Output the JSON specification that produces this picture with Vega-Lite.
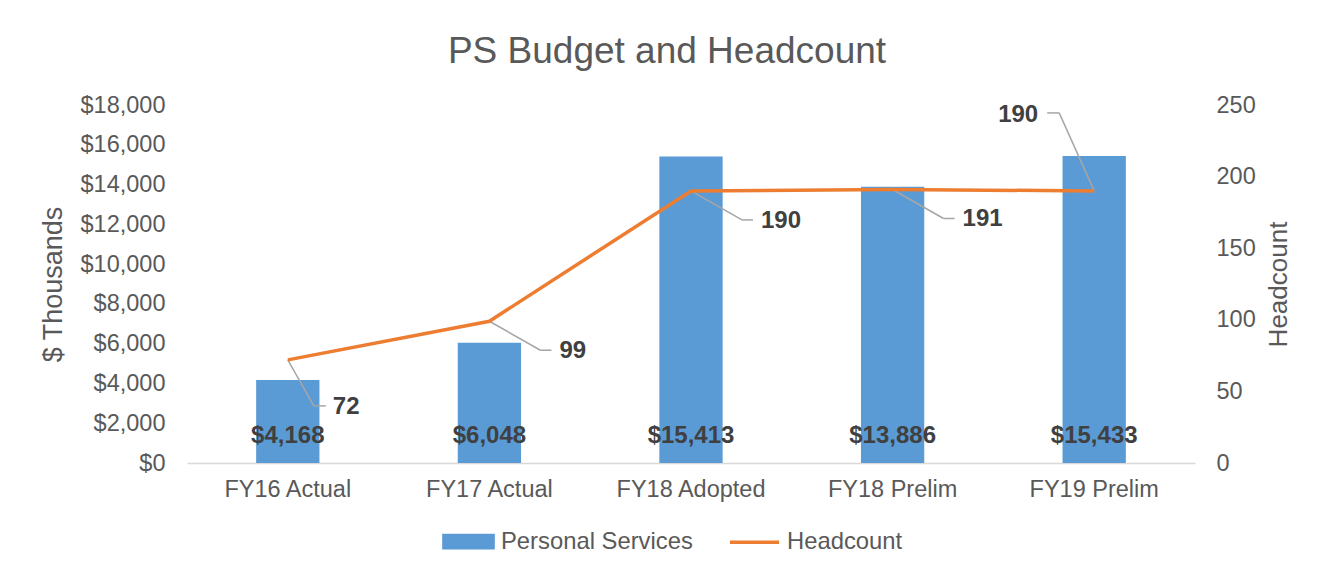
{
  "$schema": "https://vega.github.io/schema/vega-lite/v6.json",
  "width": 1008,
  "height": 358,
  "autosize": {"type": "none"},
  "padding": {"left": 187, "top": 105, "right": 133, "bottom": 110},
  "background": "white",
  "config": {"view": {"stroke": null}, "font": "Liberation Sans"},
  "title": {"text": "PS Budget and Headcount", "fontSize": 37, "font": "Liberation Sans", "fontWeight": "normal", "color": "#595959", "offset": 22, "dx": -24, "anchor": "middle"},
  "data": {"values": [
    {"period": "FY16 Actual", "ps": 4168, "hc": 72},
    {"period": "FY17 Actual", "ps": 6048, "hc": 99},
    {"period": "FY18 Adopted", "ps": 15413, "hc": 190},
    {"period": "FY18 Prelim", "ps": 13886, "hc": 191},
    {"period": "FY19 Prelim", "ps": 15433, "hc": 190}
  ]},
  "encoding": {
    "x": {"field": "period", "type": "nominal", "sort": null,
      "scale": {"paddingInner": 0.686, "paddingOuter": 0.343},
      "axis": {"title": null, "labelAngle": 0, "ticks": false, "domain": true, "domainColor": "#D9D9D9", "domainWidth": 1.5, "labelFontSize": 23.5, "labelColor": "#595959", "labelFont": "Liberation Sans", "labelPadding": 14, "grid": false}}
  },
  "layer": [
    {
      "layer": [
        {
          "mark": {"type": "bar"},
          "encoding": {
            "y": {"field": "ps", "type": "quantitative",
              "scale": {"domain": [0, 18000], "nice": false, "zero": true},
              "axis": {"title": "$ Thousands", "values": [0, 2000, 4000, 6000, 8000, 10000, 12000, 14000, 16000, 18000], "labelOverlap": false, "format": "$,.0f", "grid": false, "domain": false, "ticks": false, "labelPadding": 22, "labelFontSize": 23.5, "labelColor": "#595959", "labelFont": "Liberation Sans", "titleFontSize": 27, "titleFont": "Liberation Sans", "titleFontWeight": "normal", "titleColor": "#595959", "titlePadding": 13}},
            "color": {"datum": "Personal Services", "type": "nominal",
              "scale": {"domain": ["Personal Services", "Headcount"], "range": ["#5B9BD5", "#ED7D31"]},
              "legend": {"title": null, "orient": "none", "legendX": 255, "legendY": 410, "direction": "horizontal", "labelFontSize": 23.8, "labelLimit": 0, "labelColor": "#595959", "labelFont": "Liberation Sans", "labelOffset": 6, "columnPadding": 29, "symbolSize": 2417, "symbolType": "M-1,-0.25H1V0.25H-1Z",
                "encode": {"symbols": {"update": {
                  "shape": {"signal": "datum.value === 'Headcount' ? 'M-1,0H1' : 'M-1,-0.25H1V0.25H-1Z'"},
                  "fill": {"signal": "datum.value === 'Headcount' ? 'transparent' : '#5B9BD5'"},
                  "stroke": {"signal": "datum.value === 'Headcount' ? '#ED7D31' : 'transparent'"},
                  "strokeWidth": {"value": 3.5},
                  "size": {"value": 2417},
                  "opacity": {"value": 1}
                }}}}}
          }
        },
        {
          "mark": {"type": "text", "fontSize": 24, "fontWeight": "bold", "color": "#404040", "font": "Liberation Sans", "baseline": "middle", "dy": -27},
          "encoding": {
            "y": {"datum": 0, "type": "quantitative",
              "scale": {"domain": [0, 18000], "nice": false, "zero": true},
              "axis": {"title": "$ Thousands", "values": [0, 2000, 4000, 6000, 8000, 10000, 12000, 14000, 16000, 18000], "labelOverlap": false, "format": "$,.0f", "grid": false, "domain": false, "ticks": false, "labelPadding": 22, "labelFontSize": 23.5, "labelColor": "#595959", "labelFont": "Liberation Sans", "titleFontSize": 27, "titleFont": "Liberation Sans", "titleFontWeight": "normal", "titleColor": "#595959", "titlePadding": 13}},
            "text": {"field": "ps", "type": "quantitative", "format": "$,.0f"}
          }
        }
      ]
    },
    {
      "encoding": {
        "y": {"field": "hc", "type": "quantitative",
          "scale": {"domain": [0, 250], "nice": false, "zero": true},
          "axis": {"orient": "right", "title": "Headcount", "values": [0, 50, 100, 150, 200, 250], "labelOverlap": false, "grid": false, "domain": false, "ticks": false, "labelPadding": 21, "labelFontSize": 23.5, "labelColor": "#595959", "labelFont": "Liberation Sans", "titleFontSize": 26, "titleFont": "Liberation Sans", "titleFontWeight": "normal", "titleColor": "#595959", "titleAngle": 270, "titleBaseline": "top", "titlePadding": 10}}
      },
      "layer": [
        {
          "transform": [{"filter": "datum.period === 'FY16 Actual'"}],
          "mark": {"type": "rule", "color": "#A6A6A6", "strokeWidth": 1.5, "x2Offset": 26, "y2Offset": 46},
          "encoding": {"x2": {"field": "period"}, "y2": {"field": "hc"}}
        },
        {
          "transform": [{"filter": "datum.period === 'FY16 Actual'"}],
          "mark": {"type": "rule", "color": "#A6A6A6", "strokeWidth": 1.5, "xOffset": 26, "yOffset": 46, "x2Offset": 38, "y2Offset": 46},
          "encoding": {"x2": {"field": "period"}, "y2": {"field": "hc"}}
        },
        {
          "transform": [{"filter": "datum.period === 'FY17 Actual' || datum.period === 'FY18 Adopted' || datum.period === 'FY18 Prelim'"}],
          "mark": {"type": "rule", "color": "#A6A6A6", "strokeWidth": 1.5, "x2Offset": 51, "y2Offset": 29},
          "encoding": {"x2": {"field": "period"}, "y2": {"field": "hc"}}
        },
        {
          "transform": [{"filter": "datum.period === 'FY17 Actual' || datum.period === 'FY18 Adopted' || datum.period === 'FY18 Prelim'"}],
          "mark": {"type": "rule", "color": "#A6A6A6", "strokeWidth": 1.5, "xOffset": 51, "yOffset": 29, "x2Offset": 62, "y2Offset": 29},
          "encoding": {"x2": {"field": "period"}, "y2": {"field": "hc"}}
        },
        {
          "transform": [{"filter": "datum.period === 'FY19 Prelim'"}],
          "mark": {"type": "rule", "color": "#A6A6A6", "strokeWidth": 1.5, "x2Offset": -35, "y2Offset": -78},
          "encoding": {"x2": {"field": "period"}, "y2": {"field": "hc"}}
        },
        {
          "transform": [{"filter": "datum.period === 'FY19 Prelim'"}],
          "mark": {"type": "rule", "color": "#A6A6A6", "strokeWidth": 1.5, "xOffset": -35, "yOffset": -78, "x2Offset": -47, "y2Offset": -78},
          "encoding": {"x2": {"field": "period"}, "y2": {"field": "hc"}}
        },
        {
          "mark": {"type": "line", "strokeWidth": 3.5},
          "encoding": {
            "color": {"datum": "Headcount", "type": "nominal"}
          }
        },
        {
          "transform": [{"filter": "datum.period === 'FY16 Actual'"}],
          "mark": {"type": "text", "fontSize": 24, "fontWeight": "bold", "color": "#404040", "font": "Liberation Sans", "align": "left", "baseline": "middle", "dx": 45, "dy": 47},
          "encoding": {"text": {"field": "hc", "type": "quantitative"}}
        },
        {
          "transform": [{"filter": "datum.period === 'FY17 Actual' || datum.period === 'FY18 Adopted' || datum.period === 'FY18 Prelim'"}],
          "mark": {"type": "text", "fontSize": 24, "fontWeight": "bold", "color": "#404040", "font": "Liberation Sans", "align": "left", "baseline": "middle", "dx": 70, "dy": 30},
          "encoding": {"text": {"field": "hc", "type": "quantitative"}}
        },
        {
          "transform": [{"filter": "datum.period === 'FY19 Prelim'"}],
          "mark": {"type": "text", "fontSize": 24, "fontWeight": "bold", "color": "#404040", "font": "Liberation Sans", "align": "right", "baseline": "middle", "dx": -56, "dy": -76},
          "encoding": {"text": {"field": "hc", "type": "quantitative"}}
        }
      ]
    }
  ],
  "resolve": {"scale": {"y": "independent"}}
}
